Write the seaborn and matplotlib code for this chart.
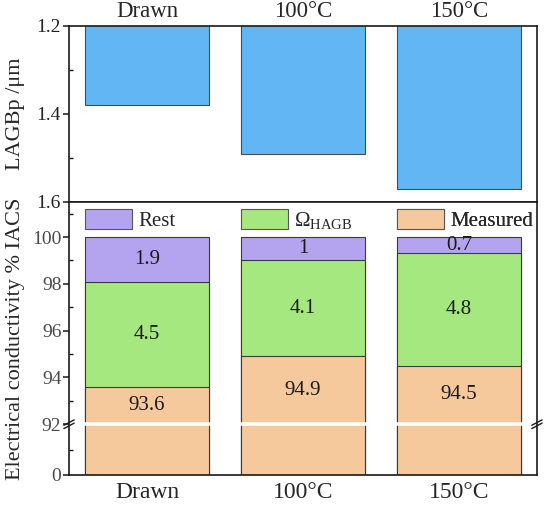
import numpy as np
import pandas as pd
import matplotlib
matplotlib.use("Agg")
import matplotlib.pyplot as plt
import seaborn as sns
from matplotlib.patches import Patch
from matplotlib.ticker import FixedLocator

# ---------------- data ----------------
categories = ["Drawn", "100°C", "150°C"]
lagbp = [1.38, 1.49, 1.57]
measured = [93.6, 94.9, 94.5]
omega_hagb = [4.5, 4.1, 4.8]
rest = [1.9, 1.0, 0.7]
measured_labels = ["93.6", "94.9", "94.5"]
omega_labels = ["4.5", "4.1", "4.8"]
rest_labels = ["1.9", "1", "0.7"]
legend_labels = ["Rest", r"$\Omega_{\mathrm{HAGB}}$", "Measured"]

# ---------------- style ----------------
sns.set_style("ticks")
plt.rcParams["font.family"] = ["Liberation Serif", "DejaVu Serif"]
plt.rcParams["mathtext.fontset"] = "custom"
plt.rcParams["mathtext.rm"] = "Liberation Serif"
plt.rcParams["mathtext.it"] = "Liberation Serif:italic"

BLUE = "#62B6F4"
PURPLE = "#B4A3EF"
GREEN = "#A4E87F"
ORANGE = "#F5C99C"
EDGE = "#3a3a3a"
SPINE = "#1a1a1a"

fig = plt.figure(figsize=(5.46, 5.08), dpi=100)
ax_top = fig.add_axes([0.1264, 0.6024, 0.857, 0.3465])
ax_bot = fig.add_axes([0.1264, 0.065, 0.857, 0.5374])

# ---------------- top panel ----------------
df_top = pd.DataFrame({"cat": categories, "val": lagbp})
sns.barplot(data=df_top, x="cat", y="val", color=BLUE, saturation=1, width=0.8,
            edgecolor="#4a4a4a", linewidth=0.8, ax=ax_top, zorder=1)
ax_top.set_ylim(1.6, 1.2)
ax_top.set_xlim(-0.5, 2.5)
ax_top.xaxis.tick_top()
ax_top.set_xlabel("")
ax_top.set_ylabel("LAGBp /μm", fontsize=16)
ax_top.yaxis.set_label_coords(-0.093, 0.5)
ax_top.yaxis.set_major_locator(FixedLocator([1.2, 1.4, 1.6]))
ax_top.yaxis.set_minor_locator(FixedLocator([1.3, 1.5]))
ax_top.set_yticklabels(["1.2", "1.4", "1.6"])
ax_top.tick_params(axis="x", which="both", direction="in", length=5, width=1.1,
                   labelsize=16.5, pad=2.5, top=True, bottom=False, color=SPINE)
ax_top.tick_params(axis="y", which="major", direction="out", length=4, width=1.1,
                   labelsize=14, pad=2, color=SPINE, labelcolor="#222222")
ax_top.tick_params(axis="y", which="minor", direction="in", length=3, width=1.0,
                   color=SPINE)

# ---------------- bottom panel ----------------
LOW = 50.5 / 92.0
HIGH = 23.27


def fwd(y):
    y = np.asarray(y, dtype=float)
    return np.where(y <= 92, y * LOW, 92 * LOW + (y - 92) * HIGH)


def inv(z):
    z = np.asarray(z, dtype=float)
    return np.where(z <= 92 * LOW, z / LOW, 92 + (z - 92 * LOW) / HIGH)


total = [m + o + r for m, o, r in zip(measured, omega_hagb, rest)]
mid = [m + o for m, o in zip(measured, omega_hagb)]
df_bot = pd.DataFrame({"cat": categories, "total": total, "mid": mid, "measured": measured})

for col, color in [("total", PURPLE), ("mid", GREEN), ("measured", ORANGE)]:
    sns.barplot(data=df_bot, x="cat", y=col, color=color, saturation=1, width=0.8,
                edgecolor=EDGE, linewidth=0.8, ax=ax_bot, zorder=1)

ax_bot.set_yscale("function", functions=(fwd, inv))
ax_bot.set_ylim(0, 101.5)
ax_bot.set_xlim(-0.5, 2.5)
ax_bot.set_xlabel("")
ax_bot.set_ylabel("Electrical conductivity % IACS", fontsize=16)
ax_bot.yaxis.set_label_coords(-0.093, 0.5)
ax_bot.yaxis.set_major_locator(FixedLocator([0, 92, 94, 96, 98, 100]))
ax_bot.yaxis.set_minor_locator(FixedLocator([46, 93, 95, 97, 99, 101]))
ax_bot.set_yticklabels(["0", "92", "94", "96", "98", "100"])
ax_bot.tick_params(axis="x", which="both", direction="in", length=5, width=1.1,
                   labelsize=17, pad=5, bottom=True, top=False, color=SPINE)
ax_bot.tick_params(axis="y", which="major", direction="out", length=4, width=1.1,
                   labelsize=14, pad=1.5, color=SPINE, labelcolor="#4a4a4a")
ax_bot.tick_params(axis="y", which="minor", direction="in", length=3, width=1.0,
                   color=SPINE)

# value labels
for i in range(len(categories)):
    ax_bot.text(i, (92 + measured[i]) / 2, measured_labels[i], ha="center", va="center",
                fontsize=15, color="#1a1a1a", zorder=4)
    ax_bot.text(i, measured[i] + omega_hagb[i] / 2, omega_labels[i], ha="center",
                va="center", fontsize=15, color="#1a1a1a", zorder=4)
    ax_bot.text(i, mid[i] + rest[i] / 2, rest_labels[i], ha="center", va="center",
                fontsize=15, color="#1a1a1a", zorder=4)

# white gap at the axis break
ax_bot.axhline(92, color="white", lw=2.6, zorder=2)

# break marks
y92 = ax_bot.transAxes.inverted().transform(ax_bot.transData.transform((0, 92)))[1]
for xc in (0.0, 1.0):
    for dy in (-0.006, 0.006):
        ax_bot.plot([xc - 0.011, xc + 0.011], [y92 + dy - 0.010, y92 + dy + 0.010],
                    transform=ax_bot.transAxes, color=SPINE, lw=1.0, clip_on=False,
                    zorder=5)

# legends aligned with bar left edges
colors = [PURPLE, GREEN, ORANGE]
for i, (lab, colr) in enumerate(zip(legend_labels, colors)):
    leg = ax_bot.legend(handles=[Patch(facecolor=colr, edgecolor="#555555", linewidth=0.8)],
                        labels=[lab], loc="upper left",
                        bbox_to_anchor=((i + 0.1) / 3.0, 0.975), frameon=False,
                        handlelength=2.26, handleheight=1.12, handletextpad=0.3,
                        borderpad=0, borderaxespad=0, fontsize=15)
    ax_bot.add_artist(leg)

for ax in (ax_top, ax_bot):
    for sp in ax.spines.values():
        sp.set_visible(True)
        sp.set_linewidth(1.2)
        sp.set_color(SPINE)

fig.savefig("out.png", dpi=100)
